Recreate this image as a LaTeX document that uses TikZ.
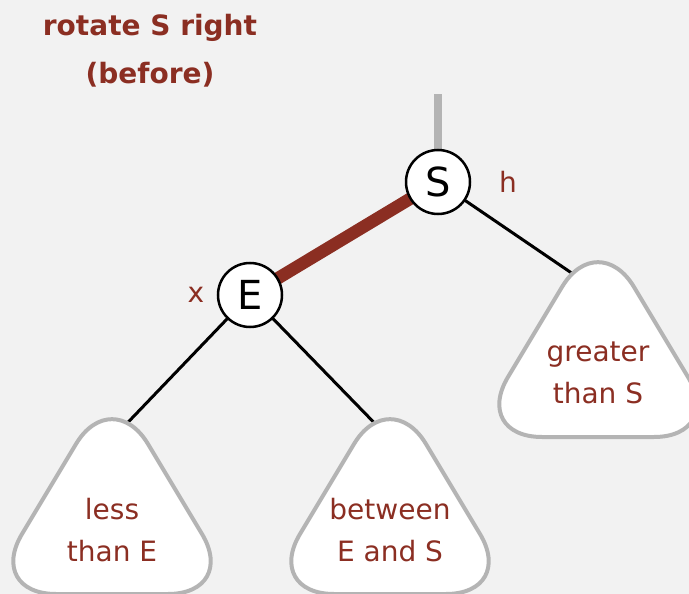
\documentclass[tikz,border=0pt]{standalone}
\usepackage{fontspec}
\setmainfont{DejaVu Sans}
\usetikzlibrary{positioning}
\usetikzlibrary{calc, backgrounds}
\definecolor{bookred}{RGB}{139,46,34}
\definecolor{panel}{RGB}{242,242,242}
\definecolor{outline}{RGB}{180,180,180}

\begin{document}
\begin{tikzpicture}[x=1pt,y=-1pt,on grid]
 \tikzstyle{key node}=[circle,draw,line width=2.5pt,fill=white,minimum size=64pt,inner sep=0,font=\fontsize{40}{40}\selectfont]
 \tikzstyle{tag node}=[text=bookred,font=\fontsize{28}{28}\selectfont]
 \tikzstyle{title node}=[align=center,text=bookred,font=\fontsize{28}{48}\selectfont\bfseries]
 \tikzset{
 	subtree node/.style={align=center,text=bookred,font=\fontsize{28}{42}\selectfont},
 	black link/.style={line width=3pt},
 	red link/.style={line width=12.5pt,draw=bookred},
 	parent link/.style={line width=8pt,draw=outline},
 	subtree/.pic={\draw[line width=4pt,draw=outline,fill=white,rounded corners=70pt] (0,-146) -- (-126,64) -- (126,64) -- cycle;}
 }

       \useasboundingbox (0,0) rectangle (689,594);
       \node[title node] (title) at (150,51) {rotate S right\\(before)};

       \node[key node] (S) at (438,182) {S};
       \node[key node] (E) [below left=113pt and 188pt of S] {E};
       \node[tag node] (h) [right=70pt of S] {h};
       \node[tag node] (x) [left=54pt of E] {x};
       \coordinate[above=88pt of S] (up);

       \node[subtree node] (less) [below left=235pt and 138pt of E] {less\\than E};
       \node[subtree node] (between) [below right=235pt and 140pt of E] {between\\E and S};
       \node[subtree node] (greater) [below right=191pt and 160pt of S] {greater\\than S};
       \coordinate[above=91pt of less] (lt);
       \coordinate[above=91pt of between] (bt);
       \coordinate[above=82pt of greater] (gt);

 \begin{scope}[on background layer]
     \fill[panel] (0,0) rectangle (689,594);
     \draw[parent link] (S.center) -- (up);
     \draw[red link] (S.center) -- (E.center);
     \draw[black link] (S.center) -- (gt);
     \draw[black link] (E.center) -- (lt);
     \draw[black link] (E.center) -- (bt);
     \pic at (less) {subtree};
     \pic at (between) {subtree};
     \pic at (greater) {subtree};
 \end{scope}
\end{tikzpicture}
\end{document}
